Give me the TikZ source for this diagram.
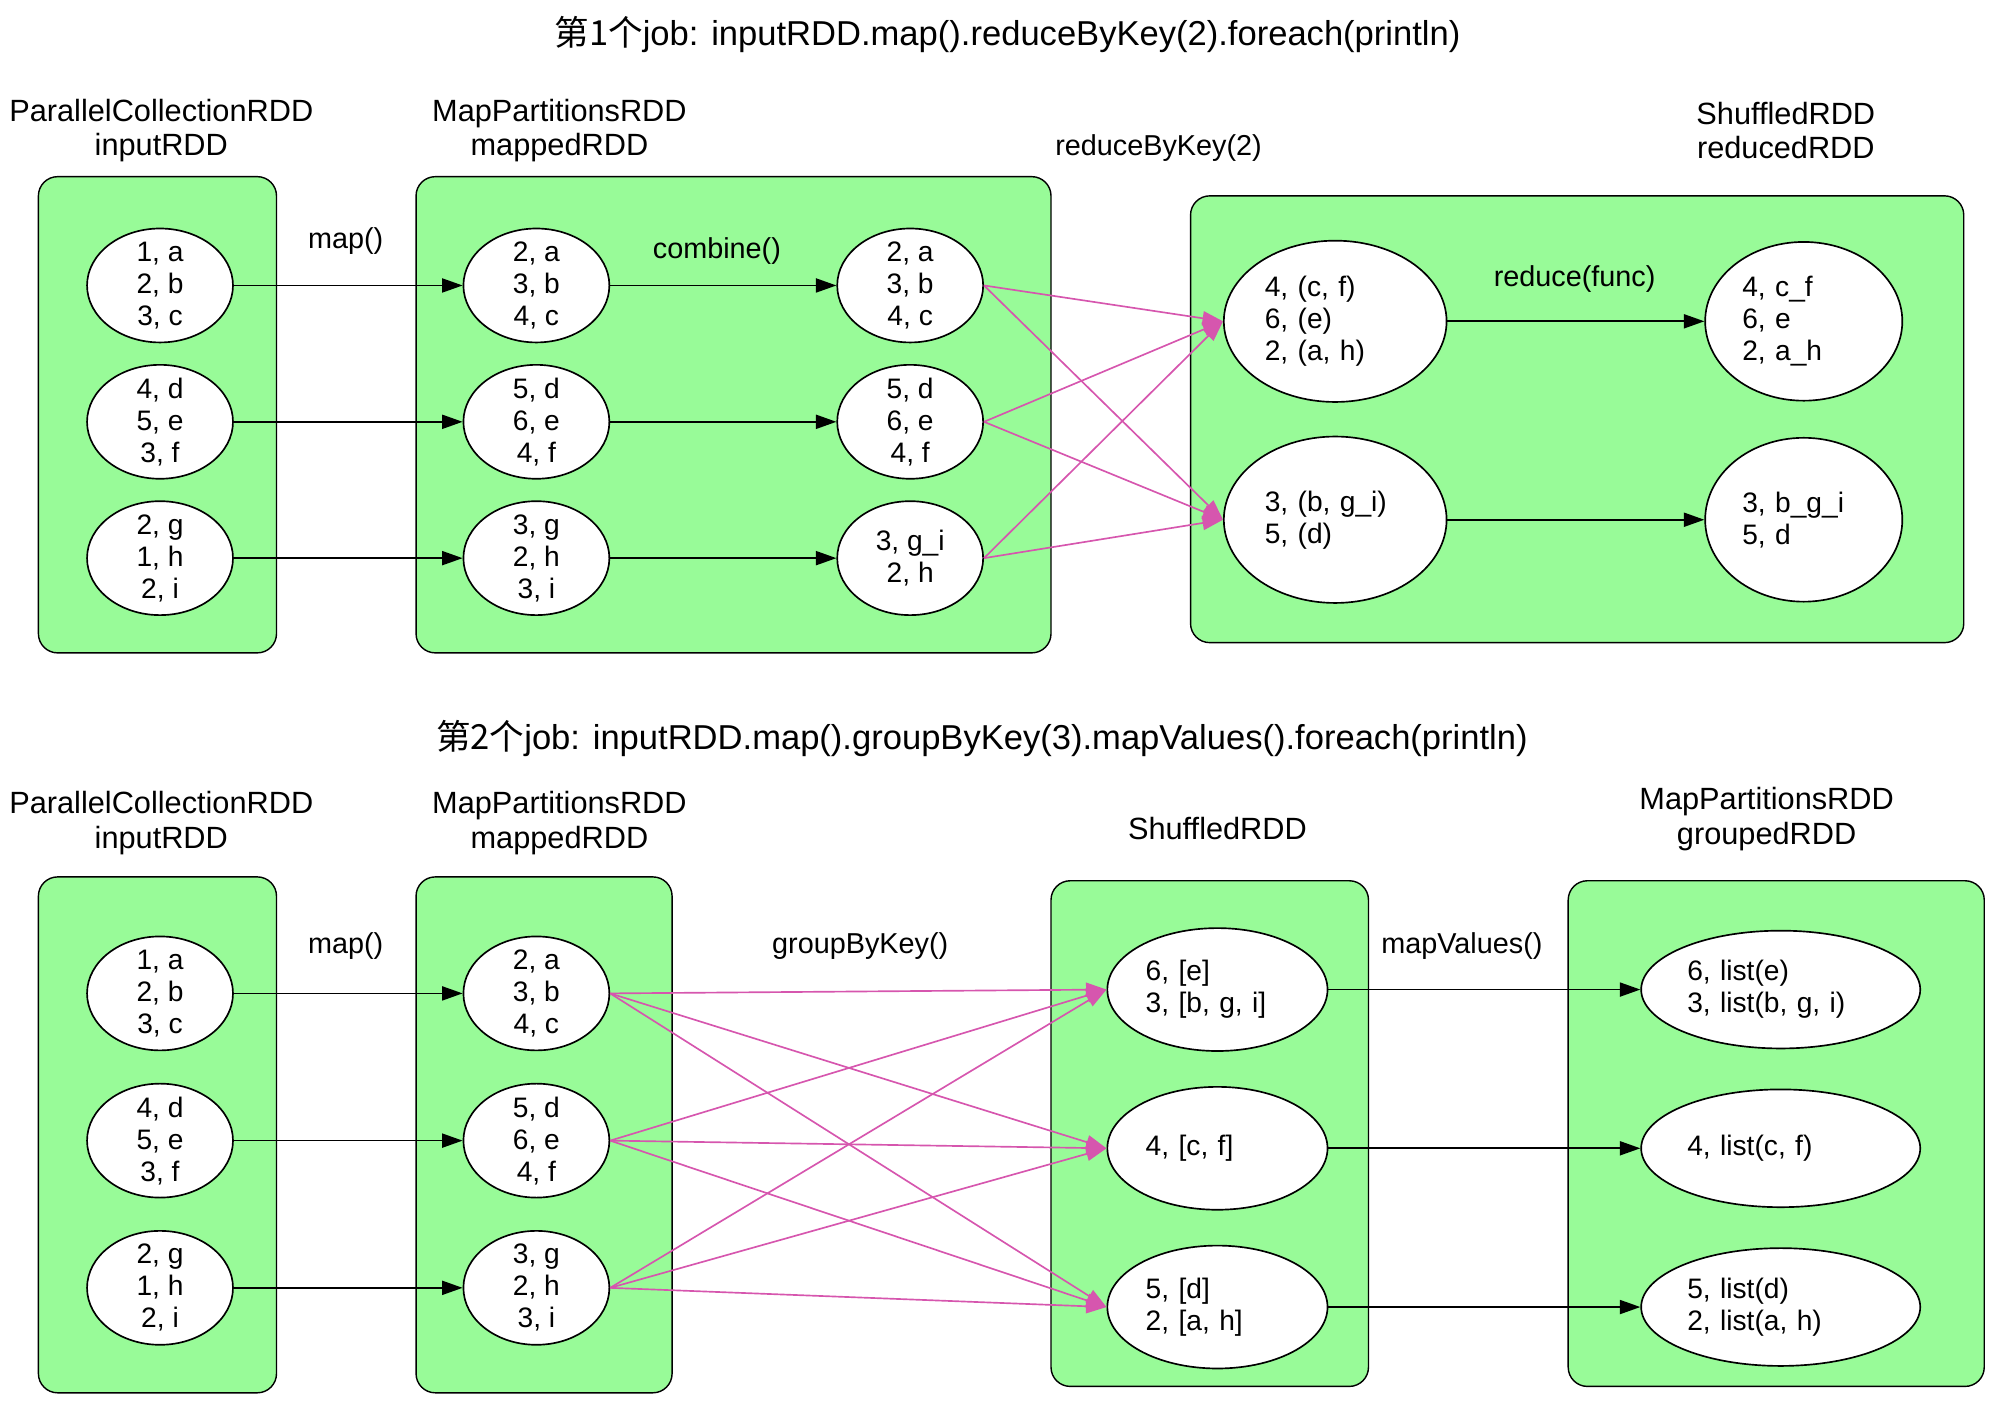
\documentclass[tikz,border=0pt]{standalone}
\usepackage{fontspec}
\setmainfont{Liberation Sans}
\newfontfamily\cjk{Noto Sans CJK SC}
\usetikzlibrary{shapes.geometric,arrows.meta}
\definecolor{rddgreen}{RGB}{152,251,152}
\definecolor{shufpink}{RGB}{214,86,174}

\begin{document}
\begin{tikzpicture}[x=1pt,y=-1pt,
    rdd/.style={draw,fill=rddgreen,rounded corners=15pt,line width=1.1pt},
    partition/.style={draw,ellipse,fill=white,line width=1.3pt,inner xsep=0pt,inner ysep=-6pt,
      minimum width=114pt,minimum height=89pt,align=center,font=\fontsize{22}{25}\selectfont},
    lpartition/.style={partition,align=left,text width=#1},
    rddname/.style={align=center,inner sep=0pt,font=\fontsize{24}{27}\selectfont},
    op/.style={inner sep=0pt,font=\fontsize{22.5}{25}\selectfont},
    jobtitle/.style={inner sep=0pt,font=\fontsize{27}{30}\selectfont},
    dep/.style={-{Triangle[length=16pt,width=11pt]},line width=1.3pt},
    shuf/.style={dep,color=shufpink}]
  \useasboundingbox (0,0) rectangle (1567,1094);

  % job 1: reduceByKey
  \node[jobtitle] (job1) at (787,27) {{\cjk 第1个}job: inputRDD.map().reduceByKey(2).foreach(println)};
  \draw[rdd] (30,138) rectangle (216,510);
  \draw[rdd] (325,138) rectangle (821,510);
  \draw[rdd] (930,153) rectangle (1534,502);
  \node[rddname] (inputname) at (126,102) {ParallelCollectionRDD\\inputRDD};
  \node[rddname] (mappedname) at (437,102) {MapPartitionsRDD\\mappedRDD};
  \node[rddname] (reducedname) at (1395,102) {ShuffledRDD\\reducedRDD};
  \foreach \t [count=\i] in {{1, a\\2, b\\3, c},{4, d\\5, e\\3, f},{2, g\\1, h\\2, i}}
    \node[partition] (in\i) at (125,{116.5+106.5*\i}) {\t};
  \foreach \t [count=\i] in {{2, a\\3, b\\4, c},{5, d\\6, e\\4, f},{3, g\\2, h\\3, i}}
    \node[partition] (map\i) at (419,{116.5+106.5*\i}) {\t};
  \foreach \t [count=\i] in {{2, a\\3, b\\4, c},{5, d\\6, e\\4, f},{3, g\_i\\2, h}}
    \node[partition] (comb\i) at (711,{116.5+106.5*\i}) {\t};
  \node[lpartition=110pt,minimum width=174pt,minimum height=126pt] (shuf1) at (1043,251) {4, (c, f)\\6, (e)\\2, (a, h)};
  \node[lpartition=110pt,minimum width=174pt,minimum height=130pt] (shuf2) at (1043,406) {3, (b, g\_i)\\5, (d)};
  \node[lpartition=96pt,minimum width=154pt,minimum height=124pt] (red1) at (1409,251) {4, c\_f\\6, e\\2, a\_h};
  \node[lpartition=96pt,minimum width=154pt,minimum height=128pt] (red2) at (1409,406) {3, b\_g\_i\\5, d};
  \node[op] (mapop) at (270,188) {map()};
  \node[op] (combineop) at (560,196) {combine()};
  \node[op] (reduceop) at (905,116) {reduceByKey(2)};
  \node[op] (funcop) at (1230,218) {reduce(func)};
  \foreach \i in {1,2,3} {
    \draw[dep] (in\i) -- (map\i);
    \draw[dep] (map\i) -- (comb\i);
    \foreach \j in {1,2} \draw[shuf] (comb\i.east) -- (shuf\j.west);
  }
  \foreach \j in {1,2} \draw[dep] (shuf\j) -- (red\j);

  % job 2: groupByKey
  \node[jobtitle] (job2) at (767,577) {{\cjk 第2个}job: inputRDD.map().groupByKey(3).mapValues().foreach(println)};
  \draw[rdd] (30,685) rectangle (216,1088);
  \draw[rdd] (325,685) rectangle (525,1088);
  \draw[rdd] (821,688) rectangle (1069,1083);
  \draw[rdd] (1225,688) rectangle (1550,1083);
  \node[rddname] (ginputname) at (126,643) {ParallelCollectionRDD\\inputRDD};
  \node[rddname] (gmappedname) at (437,643) {MapPartitionsRDD\\mappedRDD};
  \node[rddname] (shuffledname) at (951,647) {ShuffledRDD};
  \node[rddname] (groupedname) at (1380,640) {MapPartitionsRDD\\groupedRDD};
  \foreach \t [count=\i] in {{1, a\\2, b\\3, c},{4, d\\5, e\\3, f},{2, g\\1, h\\2, i}}
    \node[partition] (gin\i) at (125,{661+115*\i}) {\t};
  \foreach \t [count=\i] in {{2, a\\3, b\\4, c},{5, d\\6, e\\4, f},{3, g\\2, h\\3, i}}
    \node[partition] (gmap\i) at (419,{661+115*\i}) {\t};
  \foreach \t [count=\i] in {{6, [e]\\3, [b, g, i]},{4, [c, f]},{5, [d]\\2, [a, h]}}
    \node[lpartition=112pt,minimum width=172pt,minimum height=96pt] (grp\i) at (951,{649+124*\i}) {\t};
  \foreach \t [count=\i] in {{6, list(e)\\3, list(b, g, i)},{4, list(c, f)},{5, list(d)\\2, list(a, h)}}
    \node[lpartition=146pt,minimum width=218pt,minimum height=92pt] (val\i) at (1391,{649+124*\i}) {\t};
  \node[op] (gmapop) at (270,739) {map()};
  \node[op] (groupop) at (672,739) {groupByKey()};
  \node[op] (valuesop) at (1142,739) {mapValues()};
  \foreach \i in {1,2,3} {
    \draw[dep] (gin\i) -- (gmap\i);
    \draw[dep] (grp\i) -- (val\i);
    \foreach \j in {1,2,3} \draw[shuf] (gmap\i.east) -- (grp\j.west);
  }
\end{tikzpicture}
\end{document}
